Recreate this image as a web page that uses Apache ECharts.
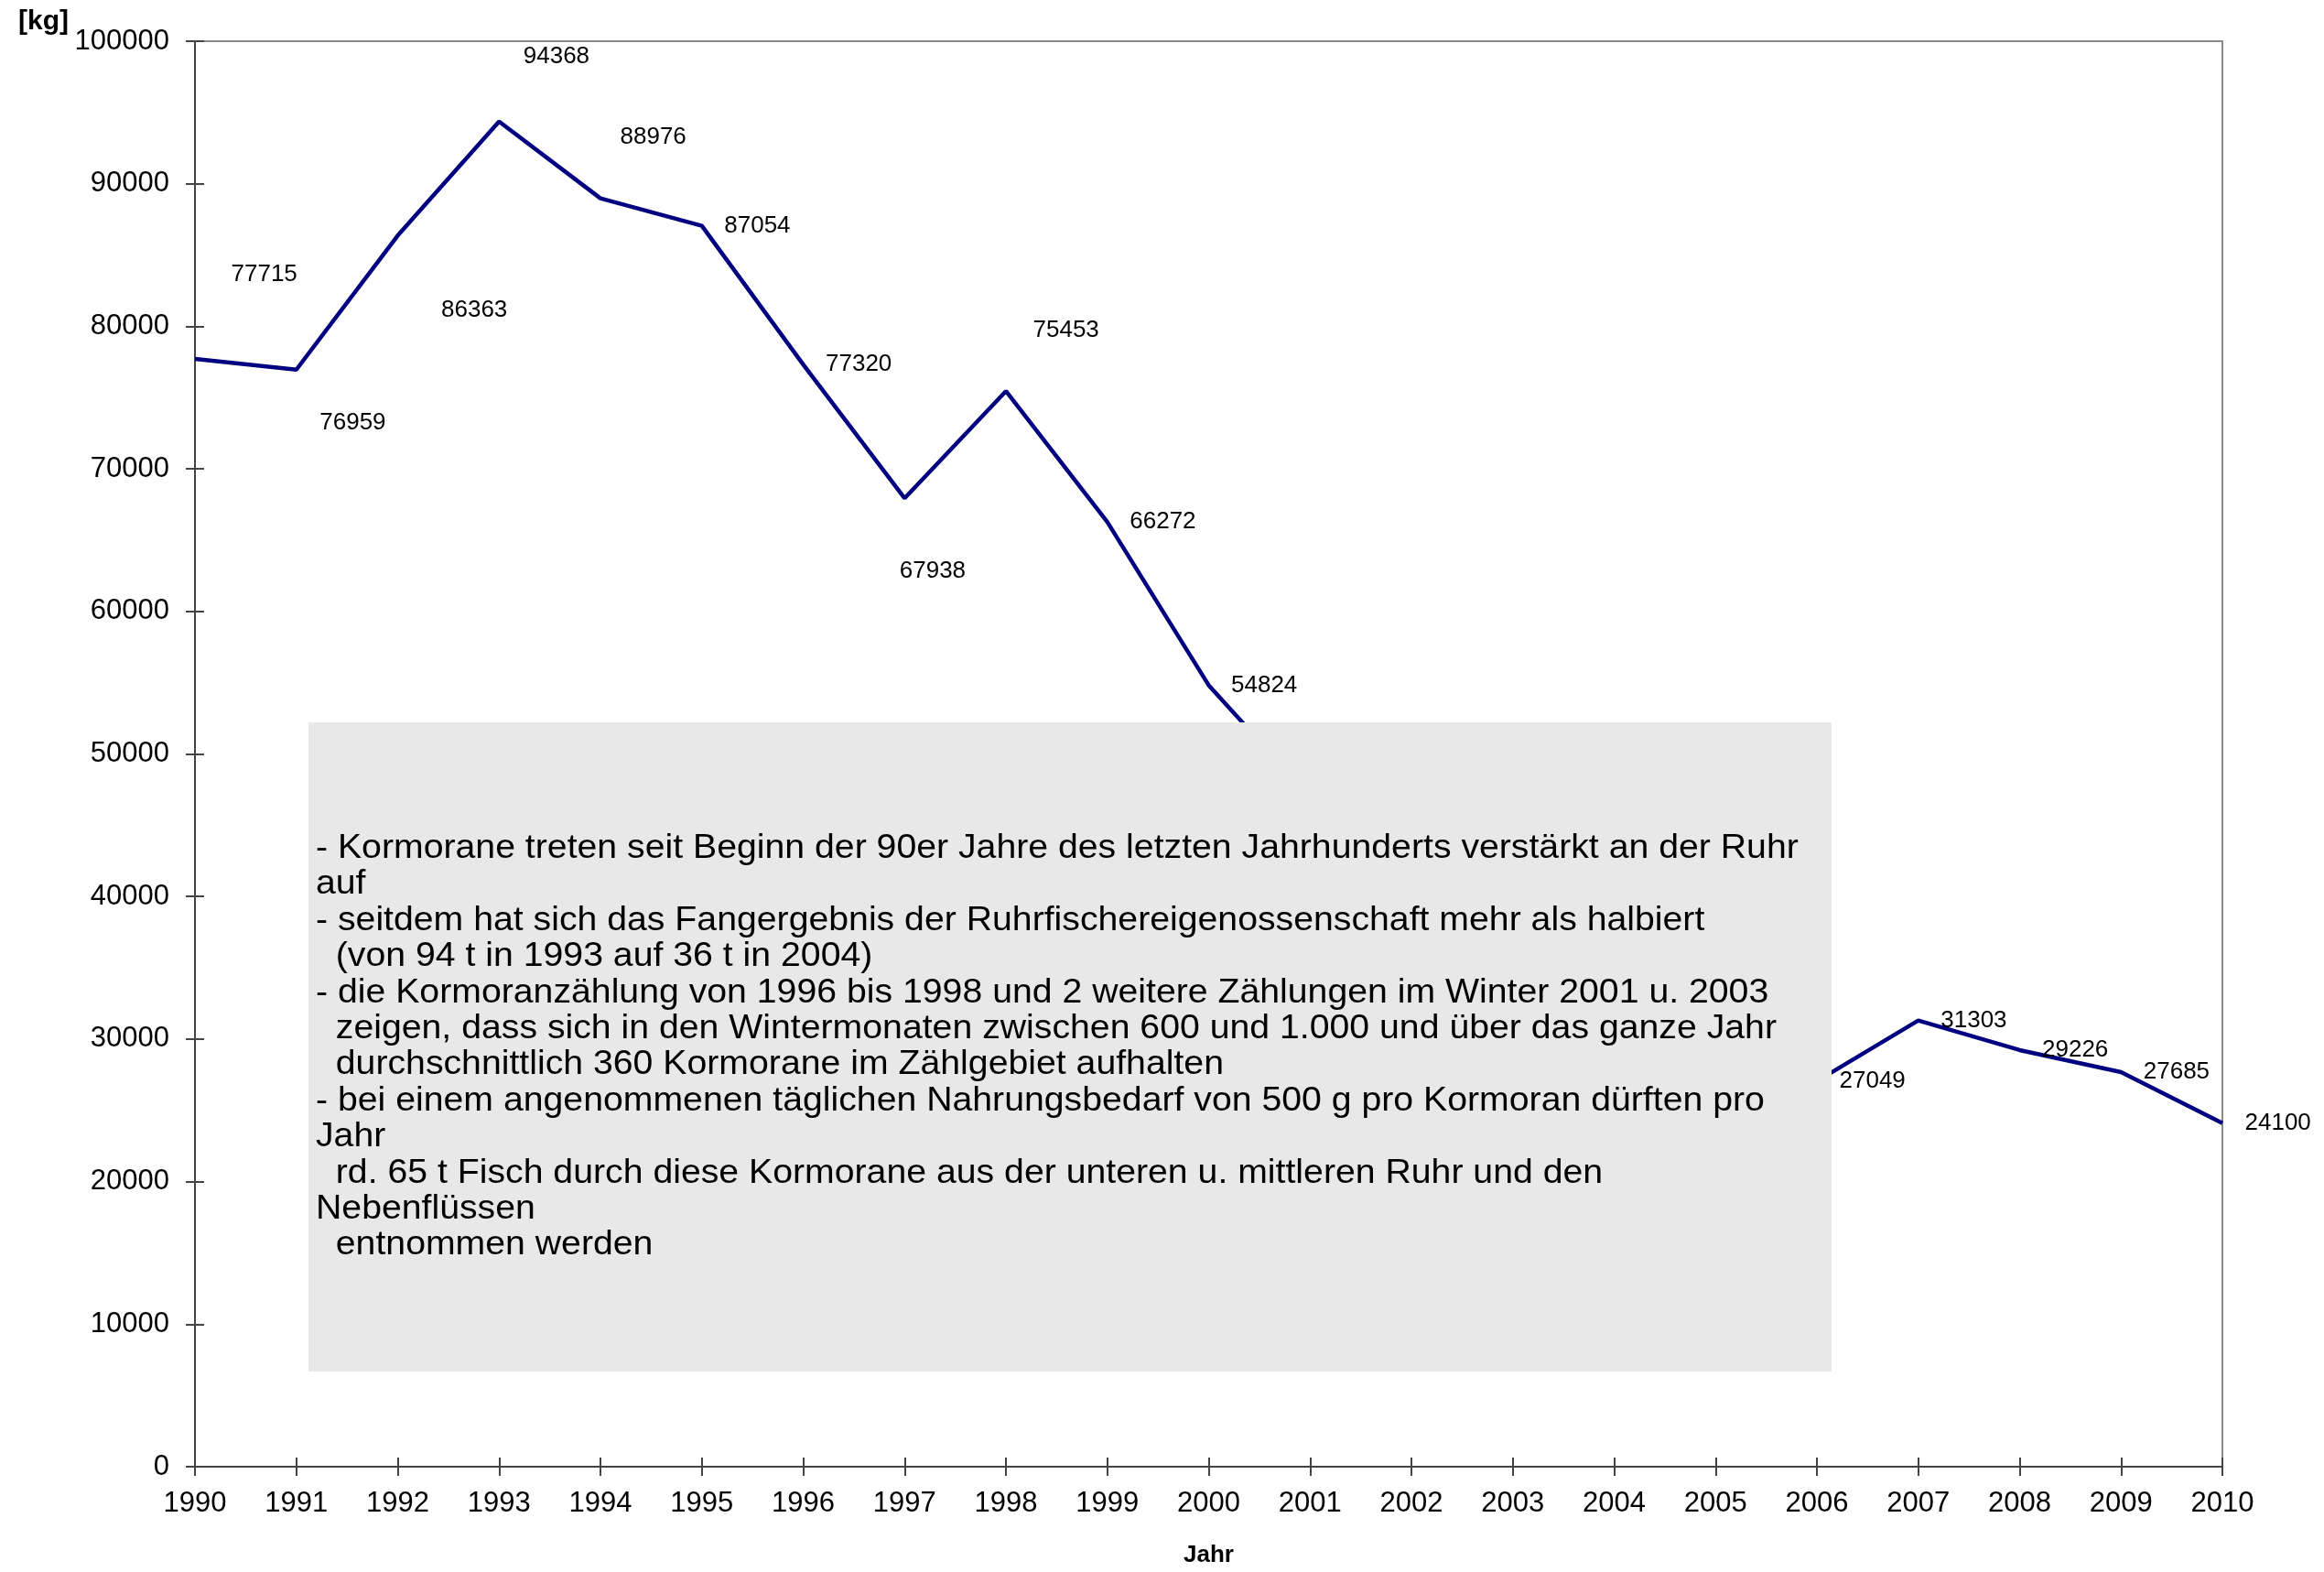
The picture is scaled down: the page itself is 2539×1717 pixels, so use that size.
<!DOCTYPE html>
<html>
<head>
<meta charset="utf-8">
<script src="https://cdn.jsdelivr.net/npm/echarts@6/dist/echarts.min.js"></script>
<style>
html,body{margin:0;padding:0;background:#fff;}
#c{width:2539px;height:1717px;}
</style>
</head>
<body>
<div id="c"></div>
<script>
const years = ['1990','1991','1992','1993','1994','1995','1996','1997','1998','1999','2000','2001','2002','2003','2004','2005','2006','2007','2008','2009','2010'];
// 2001-2005 are hidden behind the text box in the reference; estimated
const catchKg = [77715,76959,86363,94368,88976,87054,77320,67938,75453,66272,54824,47000,42000,39000,36000,30000,27049,31303,29226,27685,24100];
const hiddenLabelYears = ['2001','2002','2003','2004','2005'];
const labelOffsets = {'1990':[15,-92],'1991':[1,58],'1992':[23,82],'1993':[2,-71],'1994':[-3,-67],'1997':[-30,80],'1998':[5,-66]};
const yTicks = {min:0, max:100000, interval:10000};
const noteLines = [
  '- Kormorane treten seit Beginn der 90er Jahre des letzten Jahrhunderts verstärkt an der Ruhr',
  'auf',
  '- seitdem hat sich das Fangergebnis der Ruhrfischereigenossenschaft mehr als halbiert',
  '  (von 94 t in 1993 auf 36 t in 2004)',
  '- die Kormoranzählung von 1996 bis 1998 und 2 weitere Zählungen im Winter 2001 u. 2003',
  '  zeigen, dass sich in den Wintermonaten zwischen 600 und 1.000 und über das ganze Jahr',
  '  durchschnittlich 360 Kormorane im Zählgebiet aufhalten',
  '- bei einem angenommenen täglichen Nahrungsbedarf von 500 g pro Kormoran dürften pro',
  'Jahr',
  '  rd. 65 t Fisch durch diese Kormorane aus der unteren u. mittleren Ruhr und den',
  'Nebenflüssen',
  '  entnommen werden'
];

const FONT = '"Liberation Sans", Arial, sans-serif';
const chart = echarts.init(document.getElementById('c'));

const seriesData = years.map((y,i) => {
  const d = {value: catchKg[i]};
  if (hiddenLabelYears.indexOf(y) >= 0) d.label = {show:false};
  else if (labelOffsets[y]) d.label = {offset: labelOffsets[y]};
  return d;
});

chart.setOption({
  animation:false,
  backgroundColor:'#fff',
  grid:{left:213, right:111, top:45, bottom:108, show:true, borderColor:'#8a8a8a', borderWidth:2, backgroundColor:'transparent'},
  xAxis:[{
    type:'category', data:years, boundaryGap:false, position:'bottom',
    name:'Jahr', nameLocation:'middle', nameGap:84,
    nameTextStyle:{fontFamily:FONT, fontWeight:'bold', fontSize:26, color:'#000'},
    axisLine:{show:true, lineStyle:{color:'#444', width:2}},
    axisTick:{show:true, inside:false, length:10, lineStyle:{color:'#444', width:2}},
    axisLabel:{fontFamily:FONT, fontSize:31, color:'#000', margin:25, interval:0},
    splitLine:{show:false}
  },{
    type:'category', data:years, boundaryGap:false, position:'bottom',
    axisLine:{show:false},
    axisTick:{show:true, inside:true, length:10, lineStyle:{color:'#444', width:2}},
    axisLabel:{show:false}, splitLine:{show:false}
  }],
  yAxis:[{
    type:'value', min:yTicks.min, max:yTicks.max, interval:yTicks.interval, position:'left',
    axisLine:{show:true, lineStyle:{color:'#444', width:2}},
    axisTick:{show:true, inside:false, length:10, lineStyle:{color:'#444', width:2}},
    axisLabel:{fontFamily:FONT, fontSize:31, color:'#000', margin:28, formatter: v => String(v)},
    splitLine:{show:false}
  },{
    type:'value', min:yTicks.min, max:yTicks.max, interval:yTicks.interval, position:'left',
    axisLine:{show:false},
    axisTick:{show:true, inside:true, length:10, lineStyle:{color:'#444', width:2}},
    axisLabel:{show:false}, splitLine:{show:false}
  }],
  series:[{
    type:'line', data:seriesData, xAxisIndex:0, yAxisIndex:0,
    showSymbol:true, symbol:'circle', symbolSize:1,
    itemStyle:{color:'rgba(0,0,128,0)'},
    lineStyle:{color:'#000080', width:4.5},
    label:{show:true, position:'right', distance:24, fontFamily:FONT, fontSize:26, color:'#000', formatter: p => String(p.value)},
    emphasis:{disabled:true},
    z:2
  }],
  graphic:[{
    type:'group', z:100,
    children:[{
      type:'rect', shape:{x:337, y:789, width:1664, height:709},
      style:{fill:'#e8e8e8'}, z:100
    },{
      type:'text', x:345, y:907, z:101, scaleX:1.06,
      style:{text:noteLines.join('\n'), fontFamily:FONT, fontSize:37, lineHeight:39.4, fill:'#000', verticalAlign:'top', align:'left'}
    }]
  },{
    type:'text', x:20, y:9, z:100,
    style:{text:'[kg]', fontFamily:FONT, fontWeight:'bold', fontSize:30, fill:'#000'}
  }]
});
</script>
</body>
</html>
